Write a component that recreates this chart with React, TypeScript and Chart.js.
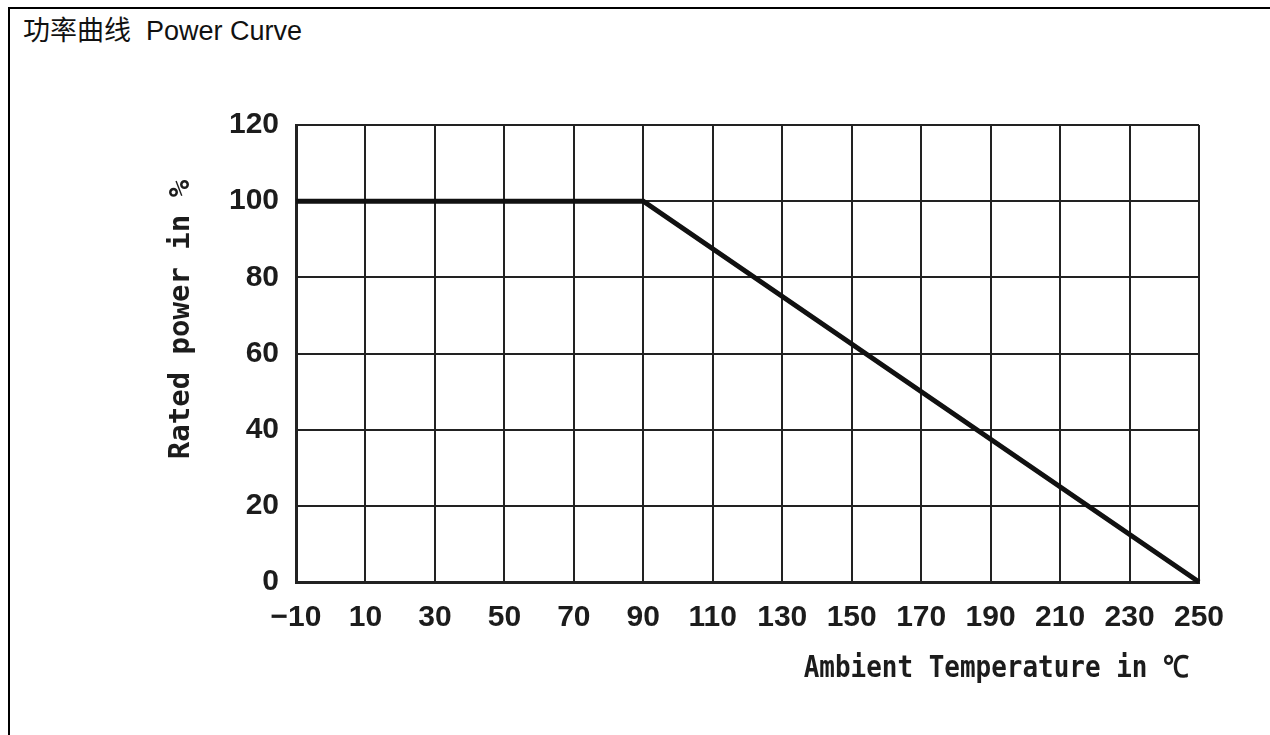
import React, { useEffect, useRef } from "react";
import { Chart, registerables } from "chart.js";

Chart.register(...registerables);

const chartTitle = "功率曲线  Power Curve";
const xAxisTitle = "Ambient Temperature in ℃";
const yAxisTitle = "Rated power in %";

const xTickValues = [-10, 10, 30, 50, 70, 90, 110, 130, 150, 170, 190, 210, 230, 250];
const xTickLabels = ["−10", "10", "30", "50", "70", "90", "110", "130", "150", "170", "190", "210", "230", "250"];
const yTickValues = [0, 20, 40, 60, 80, 100, 120];

const temperatures = [-10, 90, 250];
const ratedPower = [100, 100, 0];

const W = 1270;
const H = 735;

const titlePlugin = {
  id: "axisTitles",
  afterDraw(chart: any) {
    const { ctx, chartArea } = chart;
    ctx.save();
    ctx.fillStyle = "#1c1c1c";
    // y-axis title (rotated)
    ctx.save();
    ctx.font = 'bold 29px "DejaVu Sans Mono", monospace';
    ctx.translate(chartArea.left - 107, (chartArea.top + chartArea.bottom) / 2 - 34);
    ctx.rotate(-Math.PI / 2);
    ctx.textAlign = "center";
    ctx.textBaseline = "alphabetic";
    ctx.fillText(yAxisTitle, 0, 0);
    ctx.restore();
    // x-axis title
    ctx.save();
    ctx.font = 'bold 30px "DejaVu Sans Mono", monospace';
    ctx.translate(chartArea.right - 10, chartArea.bottom + 95);
    ctx.scale(0.865, 1);
    ctx.textAlign = "right";
    ctx.textBaseline = "alphabetic";
    ctx.fillText(xAxisTitle, 0, 0);
    ctx.restore();
    ctx.restore();
  },
};

export default function App() {
  const ref = useRef<HTMLCanvasElement | null>(null);

  useEffect(() => {
    if (!ref.current) return;
    const tickFont = { family: '"Liberation Sans", Arial, sans-serif', size: 30, weight: "bold" as const };
    const chart = new Chart(ref.current, {
      type: "line",
      data: {
        datasets: [
          {
            data: temperatures.map((t, i) => ({ x: t, y: ratedPower[i] })),
            borderColor: "#111111",
            borderWidth: 5,
            pointRadius: 0,
            tension: 0,
            clip: false as any,
          },
        ],
      },
      options: {
        responsive: false,
        maintainAspectRatio: false,
        animation: false,
        layout: { padding: { top: 125, right: 71, bottom: 0, left: 0 } },
        plugins: { legend: { display: false }, tooltip: { enabled: false }, title: { display: false } },
        scales: {
          x: {
            type: "linear",
            min: -10,
            max: 250,
            afterBuildTicks: (scale: any) => {
              scale.ticks = xTickValues.map((v) => ({ value: v }));
            },
            afterFit: (scale: any) => {
              scale.height = 153;
            },
            ticks: {
              autoSkip: false,
              maxRotation: 0,
              padding: 18,
              color: "#1c1c1c",
              font: tickFont,
              callback: (_v: any, i: number) => xTickLabels[i],
            },
            grid: { color: "#222222", lineWidth: 2, drawTicks: false },
            border: { color: "#222222", width: 3 },
          },
          y: {
            type: "linear",
            min: 0,
            max: 120,
            afterBuildTicks: (scale: any) => {
              scale.ticks = yTickValues.map((v) => ({ value: v }));
            },
            afterFit: (scale: any) => {
              scale.width = 296;
            },
            ticks: {
              padding: 17,
              color: "#1c1c1c",
              font: tickFont,
            },
            grid: { color: "#222222", lineWidth: 2, drawTicks: false },
            border: { color: "#222222", width: 3 },
          },
        },
      },
      plugins: [titlePlugin],
    });
    return () => chart.destroy();
  }, []);

  return (
    <div>
      <div
        style={{
          position: "fixed",
          left: 8,
          top: 7,
          width: W - 8,
          height: H - 7,
          borderTop: "2px solid #000",
          borderLeft: "2px solid #000",
          boxSizing: "border-box",
          background: "#fff",
        }}
      >
        <div
          style={{
            position: "absolute",
            left: 13,
            top: 9,
            fontFamily: '"Liberation Sans", Arial, "Noto Sans CJK SC", sans-serif',
            fontSize: 27,
            lineHeight: "27px",
            color: "#111",
            whiteSpace: "pre",
          }}
        >
          {chartTitle}
        </div>
      </div>
      <canvas
        ref={ref}
        width={W}
        height={H}
        style={{ position: "fixed", left: 0, top: 0, width: W, height: H, pointerEvents: "none" }}
      />
    </div>
  );
}
